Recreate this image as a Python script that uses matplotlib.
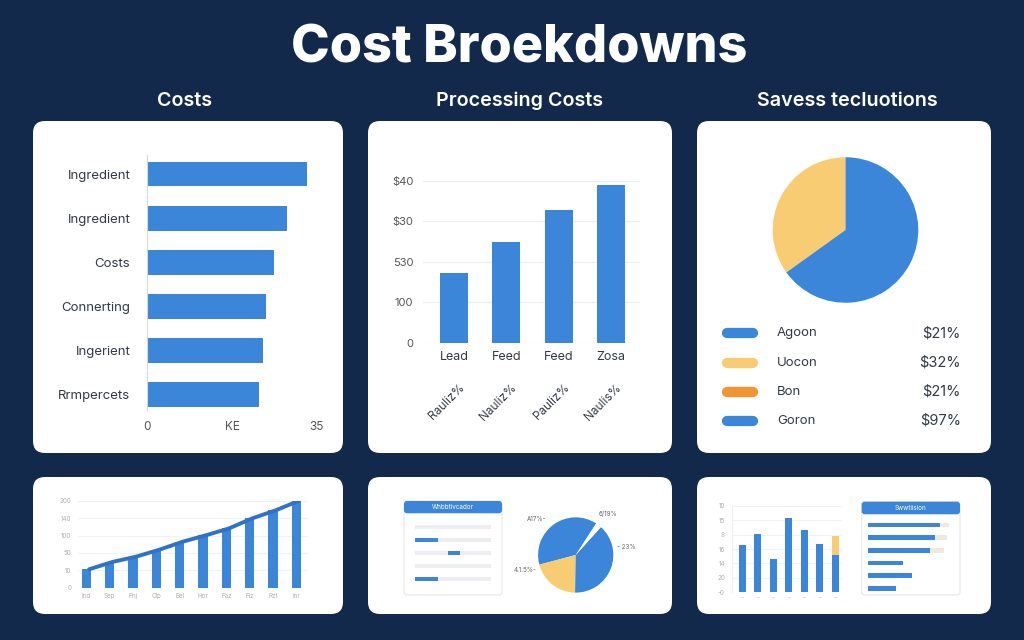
import matplotlib
matplotlib.use("Agg")
import matplotlib.pyplot as plt
from matplotlib.patches import FancyBboxPatch
import numpy as np

# ---------------- data ----------------
title = "Cost Broekdowns"
subtitles = ["Costs", "Processing Costs", "Savess tecluotions"]

# panel 1: horizontal bars
p1_labels = ["Ingredient", "Ingredient", "Costs", "Connerting", "Ingerient", "Rrmpercets"]
p1_values = [32.9, 28.8, 26.1, 24.5, 23.9, 23.1]
p1_xticks = [0, 17.5, 35]
p1_xticklabels = ["0", "KE", "35"]

# panel 2: vertical bars
p2_cats = ["Lead", "Feed", "Feed", "Zosa"]
p2_sub = ["Rauliz%", "Nauliz%", "Pauliz%", "Naulis%"]
p2_values = [17.2, 24.9, 32.8, 39.0]
p2_yticks = [0, 10, 20, 30, 40]
p2_yticklabels = ["0", "100", "530", "$30", "$40"]

# panel 3: pie + legend
p3_pie = [34.9, 65.1]
p3_leg_labels = ["Agoon", "Uocon", "Bon", "Goron"]
p3_leg_values = ["$21%", "$32%", "$21%", "$97%"]

# panel 4: bars + line
p4_cats = ["Ind", "Sep", "Pnj", "Clp", "Bel", "Hor", "Faz", "Fiz", "Rzt", "Inr"]
p4_values = [1.06, 1.48, 1.78, 2.18, 2.64, 3.01, 3.41, 3.99, 4.45, 5.0]
p4_yticklabels = ["0", "10", "50", "100", "140", "200"]

# panel 5: progress card + pie
p5_header = "Whbbtivcador"
p5_seg_start = [0, 0.0, 0.44, 0, 0.0]
p5_seg_len = [0, 0.30, 0.155, 0, 0.30]
p5_pie = [38.3, 20.6, 38.6, 2.5]
p5_pie_labels = ["A17%-", "4.1.5%-", "- 23%", "6/19%"]

# panel 6: bars + card
p6_blue = [3.26, 4.05, 2.29, 5.14, 4.33, 3.33, 2.57]
p6_yellow = [0, 0, 0, 0, 0, 0, 1.32]
p6_yticklabels = ["-0", "20", "14", "16", "8", "15", "10"]
p6_header = "Swwtiision"
p6_card_blue = [72, 67, 62, 35, 44, 28]
p6_card_total = [81, 79, 76, 0, 0, 0]

# ---------------- style ----------------
BG = "#13294b"
BLUE = "#3b86d8"
DBLUE = "#2f72c8"
YELLOW = "#f8cc73"
ORANGE = "#f39433"
TXT = "#333a44"
GRID = "#eceef1"
FAINT = "#a9b0b8"
FONT = ["Inter", "DejaVu Sans"]
plt.rcParams["font.family"] = FONT

W, H = 1024, 640
fig = plt.figure(figsize=(W / 100, H / 100), dpi=100, facecolor=BG)


def ax_px(x0, y0, x1, y1, **kw):
    return fig.add_axes([x0 / W, 1 - y1 / H, (x1 - x0) / W, (y1 - y0) / H], **kw)


bg = ax_px(0, 0, W, H)
bg.set_xlim(0, W)
bg.set_ylim(H, 0)
bg.axis("off")
bg.set_facecolor(BG)


def panel(x0, y0, x1, y1, r=12, fc="white", ec="none", lw=0, z=1):
    p = FancyBboxPatch((x0, y0), x1 - x0, y1 - y0,
                       boxstyle=f"round,pad=0,rounding_size={r}",
                       fc=fc, ec=ec, lw=lw, zorder=z)
    bg.add_patch(p)


for (x0, x1) in [(33, 343), (368, 672), (697, 991)]:
    panel(x0, 121, x1, 453)
    panel(x0, 477, x1, 614)

bg.text(519, 49, title, color="white", fontsize=37.5, fontweight="heavy",
        ha="center", va="center")
for x, s in zip([185, 520, 847], subtitles):
    bg.text(x, 101, s, color="white", fontsize=14.2, fontweight="semibold",
            ha="center", va="center")


def clean(ax):
    for s in ax.spines.values():
        s.set_visible(False)
    ax.set_facecolor("none")


# ---------------- panel 1 ----------------
a1 = ax_px(147, 155, 317, 410)
clean(a1)
y1 = np.arange(len(p1_values))
a1.barh(y1, p1_values, height=0.565, color=BLUE)
a1.set_ylim(5.34, -0.43)
a1.set_xlim(0, 35)
a1.set_yticks(y1)
a1.set_yticklabels(p1_labels, fontsize=9.5, color=TXT)
a1.set_xticks(p1_xticks)
a1.set_xticklabels(p1_xticklabels, fontsize=8.5, color="#555")
a1.tick_params(length=0, axis="y", pad=12)
a1.tick_params(length=0, axis="x", pad=8)
a1.spines["left"].set_visible(True)
a1.spines["left"].set_color("#d5d8dc")

# ---------------- panel 2 ----------------
a2 = ax_px(423, 180.7, 640, 343)
clean(a2)
x2 = np.arange(len(p2_values))
a2.bar(x2, p2_values, width=0.535, color=BLUE, zorder=3)
a2.set_xlim(-0.59, 3.55)
a2.set_ylim(0, 40)
a2.set_yticks(p2_yticks)
a2.set_yticklabels(p2_yticklabels, fontsize=8, color="#555")
a2.grid(axis="y", color=GRID, lw=0.9, zorder=0)
a2.set_xticks(x2)
a2.set_xticklabels(p2_cats, fontsize=9, color=TXT)
a2.tick_params(length=0, axis="y", pad=7)
a2.tick_params(length=0, axis="x", pad=6)
for i, s in enumerate(p2_sub):
    a2.text(i + 0.25, -0.24, s, transform=a2.get_xaxis_transform(),
            rotation=45, ha="right", va="top", fontsize=8.5, color=TXT)

# ---------------- panel 3 ----------------
a3 = ax_px(772, 156.5, 919, 303.5)
a3.pie(p3_pie, colors=[YELLOW, BLUE], startangle=90, counterclock=True,
       wedgeprops=dict(lw=0))
a3.set_xlim(-1.01, 1.01)
a3.set_ylim(-1.01, 1.01)

l3 = ax_px(695, 318.7, 995, 435.6)
l3.axis("off")
l3.set_xlim(695, 995)
l3.set_ylim(3.5, -0.5)
leg_colors = [BLUE, YELLOW, ORANGE, BLUE]
for i, (lab, val, c) in enumerate(zip(p3_leg_labels, p3_leg_values, leg_colors)):
    l3.plot([727, 753], [i, i], color=c, lw=7.4, solid_capstyle="round")
    l3.text(777, i, lab, fontsize=9.5, color=TXT, va="center", ha="left")
    l3.text(961, i, val, fontsize=10.5, color=TXT, va="center", ha="right")

# ---------------- panel 4 ----------------
a4 = ax_px(78, 500.7, 308, 587.7)
clean(a4)
x4 = np.arange(len(p4_values))
a4.bar(x4, p4_values, width=0.4, color=BLUE, zorder=3)
a4.plot(x4 + 0.12, p4_values, color=DBLUE, lw=2.8, zorder=4,
        solid_capstyle="round")
a4.set_xlim(-0.36, 9.5)
a4.set_ylim(0, 5)
a4.set_yticks(range(6))
a4.set_yticklabels(p4_yticklabels, fontsize=4.5, color=FAINT)
a4.set_xticks(x4)
a4.set_xticklabels(p4_cats, fontsize=4.5, color=FAINT)
a4.grid(axis="y", color="#f0f2f4", lw=0.8, zorder=0)
a4.tick_params(length=0, axis="y", pad=5)
a4.tick_params(length=0, axis="x", pad=4)

# ---------------- panel 5 ----------------
panel(404, 501, 502, 595, r=3, fc="white", ec="#e3e6ea", lw=0.8, z=2)
panel(404, 501, 502, 513.3, r=3, fc=BLUE, z=3)
bg.text(453, 507.2, p5_header, fontsize=4.5, color="white", ha="center",
        va="center", zorder=4)
a5c = ax_px(415, 520.1, 490.7, 585.6)
a5c.axis("off")
y5 = np.arange(len(p5_seg_len))
a5c.barh(y5, [1] * len(y5), height=0.3, color=GRID)
a5c.barh(y5, p5_seg_len, left=p5_seg_start, height=0.3, color=BLUE)
a5c.set_xlim(0, 1)
a5c.set_ylim(4.5, -0.5)

a5 = ax_px(537.7, 517, 613.7, 593)
a5.pie(p5_pie, colors=[BLUE, YELLOW, BLUE, "white"], startangle=57,
       counterclock=True, wedgeprops=dict(lw=0))
a5.set_xlim(-1.01, 1.01)
a5.set_ylim(-1.01, 1.01)
lab_pos = [(-1.03, 0.97), (-1.35, -0.39), (1.34, 0.22), (0.86, 1.10)]
for (lx, ly), s in zip(lab_pos, p5_pie_labels):
    a5.text(lx, ly, s, fontsize=4.5, color="#666", ha="center", va="center",
            clip_on=False)

# ---------------- panel 6 ----------------
a6 = ax_px(731.7, 505.7, 842, 592.3)
clean(a6)
x6 = np.arange(len(p6_blue))
a6.bar(x6, p6_blue, width=0.45, color=BLUE, zorder=3)
a6.bar(x6, p6_yellow, bottom=p6_blue, width=0.45, color=YELLOW, zorder=3)
a6.set_xlim(-0.7, 6.45)
a6.set_ylim(0, 6)
a6.set_yticks(range(7))
a6.set_yticklabels(p6_yticklabels, fontsize=4.5, color=FAINT)
a6.set_xticks(x6)
a6.set_xticklabels(["-"] * len(x6), fontsize=4.5, color=FAINT)
a6.grid(axis="y", color="#f0f2f4", lw=0.8, zorder=0)
a6.spines["left"].set_visible(True)
a6.spines["left"].set_color("#eceef1")
a6.tick_params(length=0, axis="y", pad=5)
a6.tick_params(length=0, axis="x", pad=2)

panel(861.7, 501.7, 960, 595, r=3, fc="white", ec="#e3e6ea", lw=0.8, z=2)
panel(861.7, 501.7, 960, 514.3, r=3, fc=BLUE, z=3)
bg.text(910.8, 508, p6_header, fontsize=4.5, color="white", ha="center",
        va="center", zorder=4)
a6c = ax_px(868.3, 518.7, 955, 594.6)
a6c.axis("off")
y6 = np.arange(len(p6_card_blue))
a6c.barh(y6, p6_card_total, height=0.38, color="#efe9df")
a6c.barh(y6, p6_card_blue, height=0.38, color=BLUE)
a6c.set_xlim(0, 86.7)
a6c.set_ylim(5.5, -0.5)

fig.savefig("out.png", dpi=100, facecolor=BG)
